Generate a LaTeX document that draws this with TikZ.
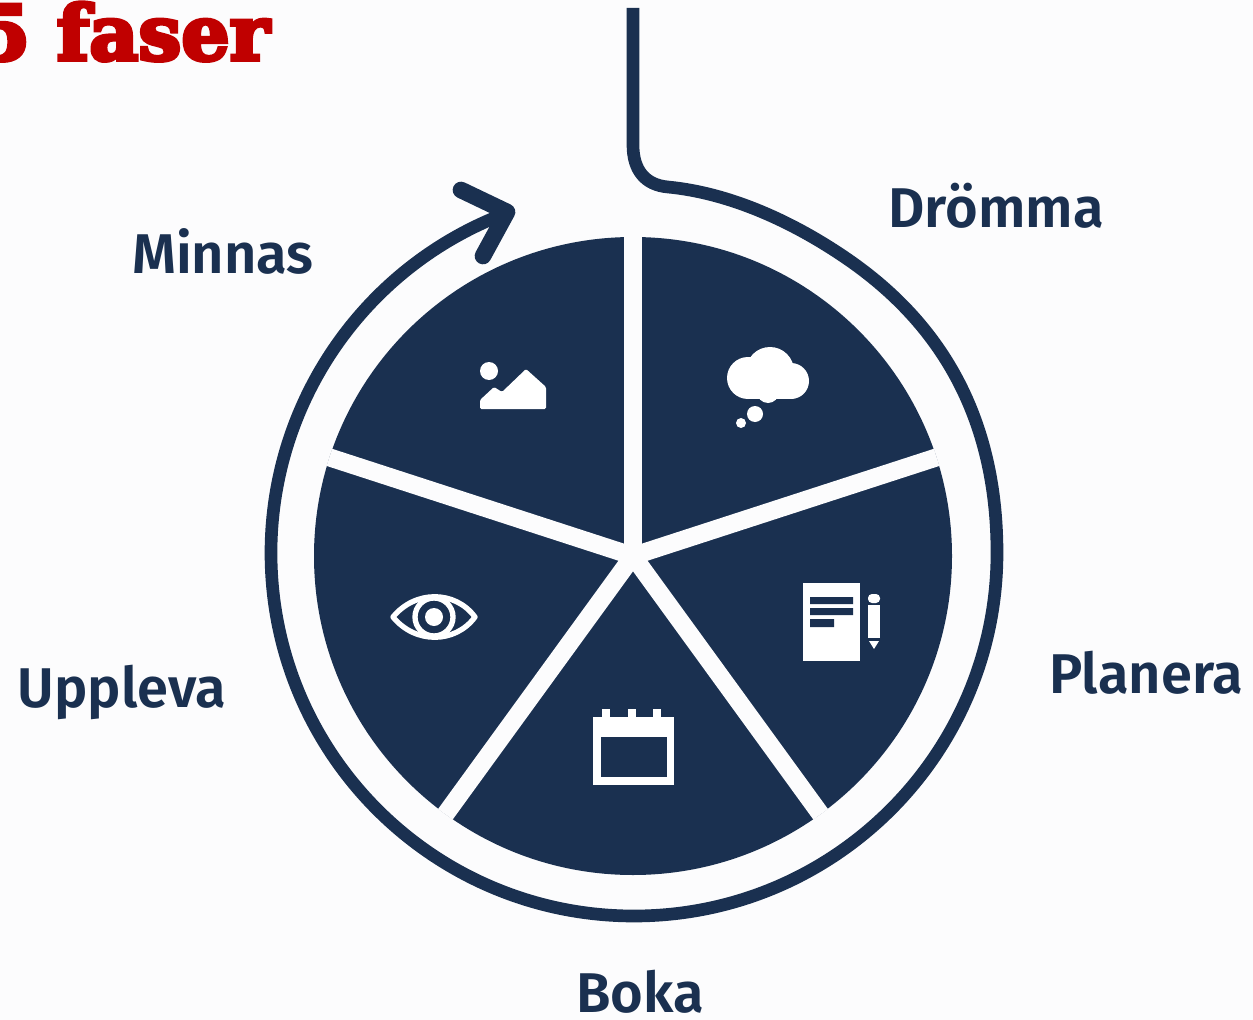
\documentclass[tikz,border=0pt]{standalone}
\usepackage{fontspec}
\setmainfont{Fira Sans SemiBold}
\newfontfamily\titlefont[FakeBold=5]{DejaVu Serif Bold}
\usetikzlibrary{arrows.meta}
\definecolor{navy}{HTML}{1A3050}
\definecolor{paper}{HTML}{FCFCFD}
\definecolor{titlered}{HTML}{C00000}
\tikzset{
  phase/.style={font=\fontsize{42}{42}\selectfont, text=navy, inner sep=0pt},
  spoke/.style={draw=paper, line width=13.5pt},
  ring/.style={draw=navy, line width=9.5pt, line cap=round, line join=round},
  icon/.style={fill=white, draw=none},
  iconcut/.style={fill=navy, draw=none}
}
\begin{document}
\begin{tikzpicture}[x=0.75pt, y=-0.75pt]
  \fill[paper] (0,0) rectangle (1253,1020);
  \useasboundingbox (0,0) rectangle (1253,1020);

  \node[anchor=base west, inner sep=0pt, text=titlered, font=\titlefont\fontsize{57}{57}\selectfont] (title) at (-23,60) {5 faser};

  % wheel
  \node[circle, fill=navy, minimum size=478.5pt, inner sep=0pt] (wheel) at (633,556) {};
  \foreach \a in {90,18,-54,-126,162}
    \draw[spoke] (wheel.center) -- (wheel.\a);

  % ring with arrow
  \coordinate (start) at (633,8);
  \coordinate (tip) at (507,212);
  \draw[ring, line cap=butt] (start) -- (633,145) .. controls (633,170) and (645,185) .. (668,187)
    .. controls (730,193) and (795,222) .. (853,263)
    .. controls (930,318) and (997,405) .. (997,553)
    arc[start angle=0, end angle=250, radius=363];
  \draw[ring, line width=12.5pt] (461,190) -- (tip) -- (483,256);

  \node[phase] (drom) at (996,206) {Drömma};
  \node[phase] (plan) at (1146,673) {Planera};
  \node[phase] (boka) at (640,992) {Boka};
  \node[phase] (uppl) at (122,692) {Uppleva};
  \node[phase] (minn) at (223,251) {Minnas};

  % cloud
  \fill[icon] (770,371) circle[radius=24] (748,378) circle[radius=21] (791,381) circle[radius=18] (768,392) circle[radius=11];
  \fill[icon] (748,375) rectangle (791,399);
  \fill[icon] (755,414) circle[radius=8] (741,423) circle[radius=5];

  % notebook and pencil
  \fill[icon] (803,583) rectangle (860,661);
  \fill[iconcut] (810,597) rectangle (853,604) (810,608) rectangle (853,615) (810,619) rectangle (834,627);
  \fill[icon, rounded corners=3pt] (868,603) -- (868,594) -- (880,594) -- (880,603) -- cycle;
  \fill[icon] (868,605) rectangle (880,638);
  \fill[icon] (869,641) -- (879,641) -- (874,649) -- cycle;

  % calendar
  \fill[icon] (593,717) rectangle (674,785);
  \fill[iconcut] (601,737) rectangle (667,777);
  \foreach \x in {606,632,657}
    \fill[icon] (\x-4,709) rectangle (\x+4,720);

  % eye
  \draw[white, line width=4pt, line join=round] (393,617) .. controls (415,590) and (455,590) .. (475,617)
    .. controls (455,644) and (415,644) .. cycle;
  \draw[white, line width=4pt] (434,617) circle[radius=19];
  \fill[icon] (434,617) circle[radius=9];

  % picture
  \fill[icon] (489,371) circle[radius=9];
  \fill[icon, rounded corners=1pt] (480,409) -- (480,400) -- (494,387) -- (502,392) -- (526,369) -- (546,387) -- (546,409) -- cycle;
\end{tikzpicture}
\end{document}
